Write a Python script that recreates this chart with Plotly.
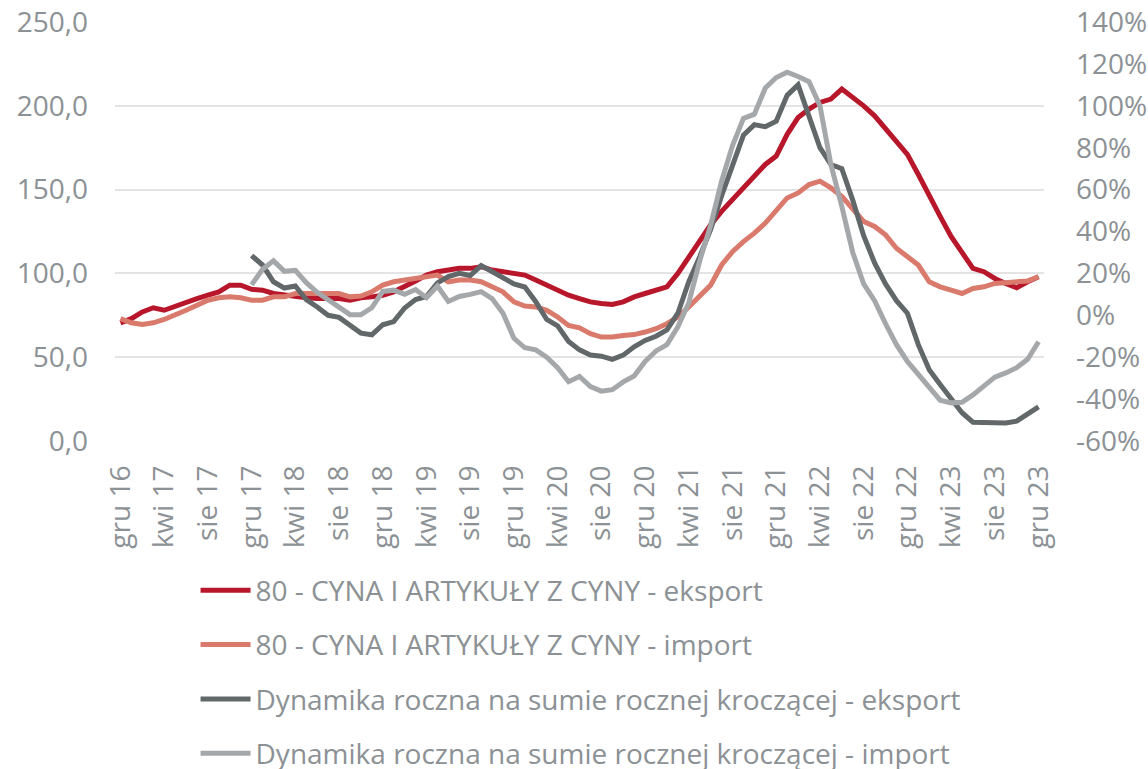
import plotly.graph_objects as go

# Monthly categories: gru 16 ... gru 23
MONTH_NAMES = ["sty", "lut", "mar", "kwi", "maj", "cze", "lip", "sie", "wrz", "paź", "lis", "gru"]
months = ["gru 16"] + [f"{m} {y}" for y in range(17, 24) for m in MONTH_NAMES]

# 80 - tin and tin articles, rolling annual sums (left axis)
export_value = [
    70.5, 73, 77, 79.5, 78, 80.5, 82.5, 85, 87, 89, 93, 93,
    90.5, 90, 88, 87, 86.5, 85.5, 85, 85, 85, 84, 85.5, 86,
    87, 89, 92, 95.5, 99, 101, 102, 103, 103, 104, 102, 101,
    100, 99, 96, 93, 90.5, 87, 85, 83, 82, 81.5, 83, 86,
    88, 90, 92, 100, 110, 119, 129, 137, 144, 152, 159, 165,
    170, 183, 193, 198, 202, 204, 210, 205, 200, 194, 186, 178,
    171, 159, 146, 134, 122, 112, 103, 101, 97, 94, 91.5, 95,
    98,
]
import_value = [
    73, 70.5, 69.5, 70.5, 72.5, 75, 78, 81, 84, 85.5, 86, 85.5,
    84, 84, 86, 86, 88, 88, 88, 88.5, 88, 86, 86.5, 89,
    93, 95, 96, 97, 98, 99, 95, 96, 96, 95, 92, 89,
    83, 80.5, 80, 78, 74, 69, 67.5, 64, 62, 62, 63, 63.5,
    65, 67, 70, 74, 80, 86, 93, 105, 113, 119, 124, 130,
    138, 145, 148, 153, 155, 151, 146, 138, 131, 128, 123, 115,
    110, 105, 95, 92, 90, 88, 91, 92, 94, 94.5, 95, 95.5,
    98,
]

# Year-on-year dynamics of the rolling annual sum, % (right axis); starts at gru 17
N_EMPTY = 12
export_dyn = [None] * N_EMPTY + [
    28.5, 24, 16, 13, 14, 7.5, 4, 0, -1, -5, -8.5, -9.3,
    -4.5, -3, 3.5, 7.5, 9, 15.5, 18.5, 20, 19, 23.7, 21, 18,
    15, 13.5, 6.5, -2, -5, -12.5, -16.5, -19, -19.5, -21, -19, -15,
    -12, -10, -7, 1, 16, 28, 41, 57, 72, 86, 91, 90,
    92.6, 105, 110, 95, 80, 72, 70, 55, 38, 25, 15, 7,
    1, -14, -26, -33, -39.5, -46.5, -51, -51, -51.3, -51.4, -50.5, -47,
    -43.7,
]
import_dyn = [None] * N_EMPTY + [
    14.6, 22, 26, 21, 21.5, 15.6, 11, 7.5, 4.5, 0.3, 0.3, 3.6,
    11.4, 12, 10, 12.3, 8.4, 14, 6.6, 9, 10, 11.3, 8, 1,
    -11, -15.5, -16.5, -20, -25, -31.7, -29.2, -34, -36.2, -35.5, -31.8, -29,
    -22, -17, -14, -5.5, 6, 26, 43, 64, 81, 94, 96, 108.5,
    113.5, 116, 114, 111.5, 100, 72, 52, 30, 15, 7, -4, -14,
    -22, -28, -34, -40.5, -41.8, -41.5, -38, -34, -29.5, -27.5, -25, -21,
    -12.6,
]

# Axis ticks
x_tick_vals = months[::4]
left_tick_vals = [0, 50, 100, 150, 200, 250]
left_tick_text = ["0,0", "50,0", "100,0", "150,0", "200,0", "250,0"]
right_tick_vals = [-60, -40, -20, 0, 20, 40, 60, 80, 100, 120, 140]
right_tick_text = ["-60%", "-40%", "-20%", "0%", "20%", "40%", "60%", "80%", "100%", "120%", "140%"]

FONT = "Open Sans"
FONT_SIZE = 28
TEXT_GREY = "#8C9195"
LINE_W = 5

fig = go.Figure()
series = [
    ("80 - CYNA I ARTYKUŁY Z CYNY - eksport", export_value, "#B8172B", "y"),
    ("80 - CYNA I ARTYKUŁY Z CYNY - import", import_value, "#D97A6C", "y"),
    ("Dynamika roczna na sumie rocznej kroczącej - eksport", export_dyn, "#62676A", "y2"),
    ("Dynamika roczna na sumie rocznej kroczącej - import", import_dyn, "#A5A8AB", "y2"),
]
for i, (name, vals, color, axis) in enumerate(series):
    fig.add_trace(go.Scatter(
        x=months, y=vals, name=name, mode="lines", yaxis=axis,
        line=dict(color=color, width=LINE_W, shape="linear"),
        legendgroup=f"g{i}", connectgaps=False,
    ))

tick_font = dict(family=FONT, size=FONT_SIZE, color=TEXT_GREY)

fig.update_layout(
    width=1148, height=769,
    margin=dict(l=115, r=104, t=22, b=328, autoexpand=False),
    paper_bgcolor="white", plot_bgcolor="white",
    font=tick_font,
    showlegend=True,
    legend=dict(
        orientation="v", x=0.0867, xanchor="left", xref="paper",
        y=0.2647, yanchor="top", yref="container",
        font=tick_font, tracegroupgap=15, itemwidth=50,
        bgcolor="rgba(0,0,0,0)",
    ),
    xaxis=dict(
        type="category", categoryorder="array", categoryarray=months,
        range=[-0.5, len(months) - 0.5], automargin=False,
        tickmode="array", tickvals=x_tick_vals, ticktext=x_tick_vals,
        tickangle=-90, showgrid=False, zeroline=False, showline=False,
        ticks="", ticklabelstandoff=18, tickfont=tick_font,
    ),
    yaxis=dict(
        range=[0, 250], tickmode="array", tickvals=left_tick_vals, ticktext=left_tick_text,
        showgrid=True, gridcolor="#E4E4E4", gridwidth=1.5, zeroline=False,
        ticks="", ticklabelstandoff=26, automargin=False, tickfont=tick_font,
    ),
    yaxis2=dict(
        range=[-60, 140], overlaying="y", side="right",
        tickmode="array", tickvals=right_tick_vals, ticktext=right_tick_text,
        showgrid=False, zeroline=False, ticks="", ticklabelstandoff=31,
        automargin=False, tickfont=tick_font,
    ),
)

fig.write_html("out.html")
